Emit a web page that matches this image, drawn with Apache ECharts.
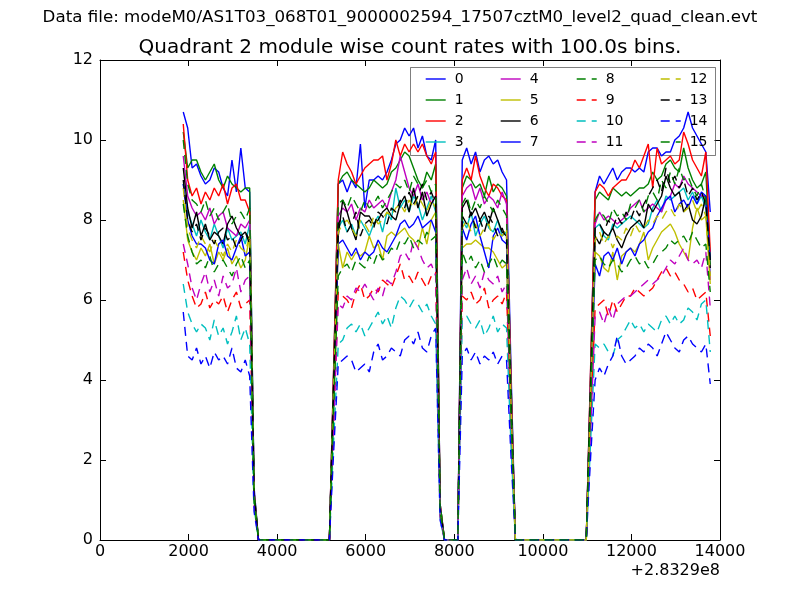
<!DOCTYPE html>
<html><head><meta charset="utf-8">
<script src="https://cdn.jsdelivr.net/npm/echarts/dist/echarts.min.js"></script>
<style>html,body{margin:0;padding:0;background:#fff}#c{width:800px;height:600px}</style>
</head><body><div id="c"></div>
<script>
// time offsets (s) relative to 2.8329e8, 100 s bins
const times = [
 1880,1980,2080,2180,2280,2380,2480,2580,2680,2780,2880,2980,3080,3180,3280,3380,3480,3580,
 5180,
 5280,5380,5480,5580,5680,5780,5880,5980,6080,6180,6280,6380,6480,6580,6680,6780,6880,6980,7080,7180,7280,7380,7480,7580,7680,7780,
 8080,
 8180,8280,8380,8480,8580,8680,8780,8880,8980,9080,9180,9280,9380,
 10980,
 11080,11180,11280,11380,11480,11580,11680,11780,11880,11980,12080,12180,12280,12380,12480,12580,12680,12780,12880,12980,13080,13180,13280,13380,13480,13580,13680,13780
];
const s0 = [10.7,10.3,9.3,9.4,9.1,8.9,9.0,9.3,9.2,8.8,8.6,9.5,8.7,9.8,8.8,8.7,1.3,0, 0,
 4.4,8.9,9.0,8.7,9.0,8.8,9.9,8.3,9.0,9.0,9.1,9.0,9.2,9.5,9.9,10.0,10.3,10.1,10.3,9.8,10.1,9.6,9.5,10.0,0.9,0, 0,
 9.5,9.8,9.4,9.7,9.2,9.5,9.6,9.4,9.5,9.2,9.0,4.3,0, 0,
 4.3,8.7,9.1,8.9,9.1,9.3,9.0,9.2,9.3,9.3,9.2,9.3,9.2,9.7,9.8,9.8,9.6,9.7,9.7,10.0,10.1,10.3,10.7,10.3,10.1,9.9,9.7,8.2];
const s1 = [10.2,9.3,9.5,9.5,9.2,9.0,9.2,9.4,9.0,8.8,9.1,8.9,8.8,8.7,8.8,8.8,1.2,0, 0,
 4.3,8.9,9.1,9.2,9.0,8.9,8.8,8.7,8.8,9.0,8.9,8.8,8.9,9.2,9.3,9.5,9.7,9.6,9.3,9.0,8.8,9.2,9.0,9.4,0.9,0, 0,
 8.8,9.1,9.0,8.8,8.9,8.6,9.1,8.7,8.9,8.8,8.6,4.0,0, 0,
 4.2,8.5,8.7,8.6,8.5,8.8,8.7,8.6,8.7,8.6,8.7,8.8,8.8,8.9,9.2,9.0,9.1,9.4,9.5,9.3,9.2,9.8,9.3,9.0,8.8,8.9,9.2,7.0];
const s2 = [10.4,9.0,8.6,8.8,8.4,8.7,8.5,8.8,8.6,8.9,8.4,8.8,8.9,8.5,8.5,8.2,1.2,0, 0,
 4.5,9.0,9.7,9.4,9.2,8.9,9.1,9.3,9.4,9.5,9.5,9.6,9.0,9.4,10.0,9.6,9.9,9.7,9.9,9.7,9.9,9.6,9.4,9.7,0.9,0, 0,
 9.0,9.3,9.0,9.6,9.1,8.8,8.6,8.9,8.8,8.6,8.5,4.0,0, 0,
 4.4,8.7,8.9,8.8,8.6,8.8,8.9,9.0,9.0,9.2,9.5,9.3,9.6,9.9,8.8,9.8,9.4,9.5,9.6,9.4,9.5,10.2,9.9,9.5,9.3,9.1,9.7,7.2];
const s3 = [8.9,8.2,7.9,7.6,8.0,7.7,7.5,7.9,7.6,7.3,7.8,7.5,7.6,7.7,7.4,7.9,1.1,0, 0,
 3.9,7.8,8.0,7.7,7.9,7.6,8.0,7.8,7.6,7.9,8.1,7.7,8.2,8.0,8.8,8.3,8.5,8.2,8.6,8.4,8.0,8.3,8.6,8.2,0.8,0, 0,
 8.0,7.8,8.2,7.6,7.9,8.1,7.8,7.7,8.0,7.6,7.7,3.5,0, 0,
 3.9,7.8,7.9,7.6,7.5,7.9,7.8,7.9,8.0,8.1,8.0,7.9,7.8,7.9,8.3,8.5,8.2,8.6,8.5,8.6,8.7,8.8,8.5,8.7,8.4,8.6,8.3,6.6];
const s4 = [9.6,8.6,8.3,8.1,8.2,8.0,8.3,7.9,8.1,8.2,7.8,7.7,7.6,7.9,7.8,8.0,1.1,0, 0,
 4.1,8.1,8.3,8.2,8.4,8.0,8.3,8.2,8.5,8.3,8.4,8.5,8.3,8.7,9.0,9.6,9.2,8.8,8.6,8.9,8.5,8.7,8.4,8.6,0.8,0, 0,
 8.6,8.8,8.9,8.5,8.8,8.4,8.6,8.5,8.3,8.7,8.4,3.8,0, 0,
 4.0,7.9,8.2,8.0,8.1,8.0,7.9,8.0,8.1,8.3,8.4,8.5,8.2,8.3,8.4,8.3,8.2,8.5,8.6,8.9,8.8,9.1,8.9,8.8,8.7,8.6,8.6,6.5];
const s5 = [8.5,7.5,7.2,7.0,7.3,7.1,7.4,6.9,7.2,7.0,7.3,6.9,7.1,6.8,7.0,7.6,1.0,0, 0,
 3.7,7.4,6.8,7.2,7.0,7.2,7.1,7.2,7.6,7.3,7.4,7.0,7.6,7.7,7.6,7.7,7.8,7.6,7.5,7.3,7.8,7.4,8.0,8.2,0.8,0, 0,
 7.3,7.4,7.4,7.5,7.4,7.3,7.3,7.2,7.0,6.8,6.9,3.2,0, 0,
 3.6,7.2,7.1,6.8,6.7,7.2,6.5,7.1,7.2,7.3,7.2,7.4,7.7,7.0,7.3,7.5,7.7,7.8,7.9,7.7,7.4,7.2,7.0,7.8,8.3,8.0,8.1,6.4];
const s6 = [9.3,8.3,7.8,8.2,7.6,7.9,7.5,7.7,7.6,7.4,7.9,8.1,7.8,7.6,7.7,7.5,1.1,0, 0,
 3.9,7.6,8.5,8.2,7.8,7.5,8.2,8.1,8.1,7.9,8.0,8.2,8.3,8.1,8.0,8.4,8.6,8.2,8.8,8.3,8.7,8.1,8.4,8.6,0.8,0, 0,
 8.3,8.5,8.1,8.3,8.0,8.2,7.9,8.3,8.0,7.7,7.6,3.5,0, 0,
 3.8,7.6,7.4,7.7,7.6,7.8,7.5,7.3,7.6,7.8,7.9,8.0,7.8,8.4,8.2,8.4,8.6,9.1,8.8,8.6,8.7,8.2,8.4,8.0,7.9,8.1,8.6,6.8];
const s7 = [8.9,8.0,7.6,7.4,7.4,7.3,7.0,6.9,7.4,7.5,7.1,7.0,7.3,7.6,7.1,7.2,1.0,0, 0,
 3.7,7.4,7.5,7.3,7.1,7.3,7.0,7.2,7.1,7.2,7.5,7.3,7.2,7.4,7.6,7.9,8.0,7.8,7.9,8.1,7.8,7.9,8.0,7.7,0.8,0, 0,
 7.8,7.5,7.9,8.1,7.6,7.2,6.8,7.6,7.8,7.5,7.4,3.3,0, 0,
 3.5,6.9,6.6,7.1,7.2,7.0,7.3,6.9,7.2,7.3,7.1,7.4,7.5,7.7,7.8,8.1,8.3,8.5,8.6,8.2,8.4,8.5,8.3,8.6,8.4,8.7,8.6,7.0];
const s8 = [10.0,8.9,8.5,8.4,8.2,8.5,8.1,8.3,8.0,8.2,8.4,7.9,8.1,8.2,8.0,8.3,1.2,0, 0,
 4.2,8.4,8.5,8.3,8.6,8.4,8.2,8.5,8.3,8.4,8.6,8.3,8.5,8.7,8.9,8.8,9.0,8.7,9.1,8.9,8.8,9.0,8.7,8.9,0.9,0, 0,
 8.4,8.6,8.2,8.5,8.3,8.6,8.4,8.2,8.5,8.3,8.1,3.7,0, 0,
 4.0,8.0,8.2,8.1,7.9,8.3,8.1,8.2,8.0,8.4,8.3,8.5,8.2,8.6,8.7,8.5,9.0,8.8,9.2,8.9,9.3,9.0,9.1,8.8,8.6,8.9,8.5,6.8];
const s9 = [7.2,6.5,6.1,5.8,5.9,6.2,5.8,6.0,5.9,6.1,5.7,6.0,6.2,5.8,5.9,6.0,0.9,0, 0,
 3.1,6.2,6.1,6.0,5.8,6.2,6.4,6.0,6.1,6.3,6.2,6.5,6.4,6.3,6.6,6.9,6.5,6.6,6.4,6.7,6.5,6.3,6.6,6.7,0.6,0, 0,
 6.1,6.0,6.2,5.9,6.0,6.3,5.8,6.0,6.1,5.9,6.2,2.7,0, 0,
 2.9,5.8,5.9,6.0,5.6,6.0,5.7,5.9,6.1,6.1,6.3,6.2,6.1,6.2,6.3,6.5,6.7,6.8,6.6,6.7,6.5,6.4,6.2,6.3,6.0,6.1,6.2,5.1];
const s10 = [6.4,5.7,5.4,5.2,5.4,5.3,5.0,5.5,5.1,5.3,4.9,5.2,5.6,5.0,5.3,4.9,0.8,0, 0,
 2.6,4.9,5.0,5.3,5.4,5.2,5.4,5.1,5.3,5.5,5.7,5.4,5.6,5.3,5.8,6.1,6.0,5.8,6.0,5.9,5.7,5.9,5.6,5.4,0.5,0, 0,
 5.5,5.6,5.4,5.3,5.5,5.1,5.3,5.6,5.2,5.4,5.3,2.4,0, 0,
 2.5,4.9,4.8,4.9,4.7,4.6,5.0,5.1,5.3,5.5,5.3,5.4,5.2,5.4,5.3,5.2,5.5,5.6,5.4,5.6,5.4,5.5,5.8,5.7,5.5,5.9,6.0,4.7];
const s11 = [7.4,6.9,6.3,6.0,6.4,6.7,6.2,6.5,6.1,6.6,6.3,6.4,6.8,6.2,6.5,6.6,0.9,0, 0,
 3.0,5.9,5.8,6.1,6.0,6.3,6.2,6.4,6.2,6.0,6.3,6.1,6.5,6.4,6.7,7.1,7.2,7.0,7.5,7.3,7.0,6.8,6.9,6.6,0.6,0, 0,
 6.5,6.8,6.4,6.6,6.3,6.7,6.5,6.4,6.6,6.2,6.4,2.9,0, 0,
 2.8,5.6,5.7,5.4,5.8,5.5,5.9,6.0,6.1,6.1,6.2,6.3,6.4,6.5,6.4,6.5,6.6,6.8,7.0,6.9,7.1,7.3,7.0,6.9,7.0,6.8,7.2,5.8];
const s12 = [8.8,7.8,7.5,7.3,7.6,7.4,7.2,7.5,7.3,7.1,7.4,7.2,7.5,7.3,7.2,7.6,1.0,0, 0,
 3.9,7.7,7.9,8.0,7.8,7.6,8.0,7.9,7.7,8.1,7.9,8.0,8.2,8.1,8.3,8.4,8.2,8.5,8.3,8.6,8.4,8.2,8.5,8.3,0.8,0, 0,
 7.8,8.0,7.7,7.9,7.6,7.8,7.9,7.5,7.7,7.6,7.8,3.5,0, 0,
 3.7,7.5,7.7,7.4,7.6,7.3,7.6,7.5,7.8,7.6,7.9,7.7,7.8,8.0,7.9,8.1,8.0,8.2,8.3,8.1,8.4,8.2,8.3,8.5,8.2,8.4,8.1,6.6];
const s13 = [9.0,8.0,7.7,7.9,7.5,7.8,7.6,7.4,7.7,7.8,7.5,7.6,7.3,7.5,7.7,7.4,1.1,0, 0,
 4.0,7.9,8.1,7.7,7.9,8.2,7.6,7.9,8.0,7.8,8.2,8.1,7.9,8.3,8.2,8.5,8.3,8.7,8.4,8.6,8.9,8.5,8.7,8.4,0.8,0, 0,
 8.1,7.9,8.2,7.8,8.0,7.7,8.1,7.9,7.6,7.8,7.5,3.4,0, 0,
 3.9,7.8,7.9,7.7,8.0,7.8,8.1,7.9,8.2,8.0,8.3,8.1,8.4,8.6,8.8,9.0,8.7,9.3,8.9,9.1,8.8,9.0,8.6,8.8,8.5,8.7,8.4,7.0];
const s14 = [5.7,4.6,4.5,4.8,4.4,4.6,4.3,4.7,4.5,4.6,4.4,4.8,4.3,4.2,4.5,4.1,0.7,0, 0,
 2.3,4.4,4.5,4.6,4.5,4.2,4.3,4.4,4.2,4.7,4.9,4.5,4.6,4.8,4.7,4.6,5.0,5.1,4.9,5.2,4.8,4.7,5.1,5.3,0.5,0, 0,
 4.6,4.8,4.5,4.7,4.4,4.6,4.5,4.7,4.4,4.6,4.5,2.1,0, 0,
 2.1,4.0,4.3,4.1,4.4,4.6,5.1,4.6,4.4,4.5,4.6,4.8,4.7,4.9,4.8,4.6,4.9,5.2,5.0,4.8,4.7,5.0,5.1,4.9,4.8,4.7,4.9,3.9];
const s15 = [8.4,7.6,7.2,6.9,7.0,6.8,7.1,6.7,6.9,7.0,6.8,6.6,6.9,7.1,6.8,7.0,1.0,0, 0,
 3.4,6.6,6.8,6.9,6.7,7.0,6.9,6.8,7.1,6.9,7.2,7.0,7.1,7.3,7.2,7.5,7.4,7.6,7.3,7.5,7.4,7.7,7.5,7.6,0.7,0, 0,
 7.2,6.9,7.1,6.8,7.0,6.7,6.9,7.1,6.8,7.0,6.9,3.1,0, 0,
 3.5,7.0,7.1,6.9,6.8,7.0,6.9,6.7,6.8,7.0,7.1,6.9,7.0,6.8,6.9,7.1,7.2,7.3,7.5,7.4,7.5,7.6,7.4,7.7,7.5,7.3,7.4,6.2];

const seriesValues = [s0,s1,s2,s3,s4,s5,s6,s7,s8,s9,s10,s11,s12,s13,s14,s15];
const seriesNames = ['0','1','2','3','4','5','6','7','8','9','10','11','12','13','14','15'];
const seriesColors = ['#0000ff','#008000','#ff0000','#00bfbf','#bf00bf','#bfbf00','#000000',
  '#0000ff','#008000','#ff0000','#00bfbf','#bf00bf','#bfbf00','#000000','#0000ff','#008000'];
const suptitle = 'Data file: modeM0/AS1T03_068T01_9000002594_17507cztM0_level2_quad_clean.evt';
const titleText = 'Quadrant 2 module wise count rates with 100.0s bins.';
const offsetText = '+2.8329e8';

const FONT = 'DejaVu Sans';
const DASH = [9, 6];
const chart = echarts.init(document.getElementById('c'));

const series = seriesValues.map((vals, i) => ({
  name: seriesNames[i],
  type: 'line',
  symbol: 'none',
  showSymbol: false,
  silent: true,
  data: times.map((t, k) => [t, vals[k]]),
  itemStyle: { color: seriesColors[i] },
  lineStyle: { color: seriesColors[i], width: 1.4, type: i < 8 ? 'solid' : DASH },
  emphasis: { disabled: true }
}));

const legendCols = [420, 495, 571, 655];
const legends = legendCols.map((x, c) => ({
  data: seriesNames.slice(c * 4, c * 4 + 4),
  orient: 'vertical',
  left: x, top: 67,
  itemWidth: 20, itemHeight: 14, itemGap: 7,
  selectedMode: false,
  itemStyle: { opacity: 0 },
  lineStyle: { width: 1.4, type: c < 2 ? 'solid' : DASH },
  textStyle: { fontFamily: FONT, fontSize: 14, color: '#000', padding: [0, 0, 0, 4] }
}));

const axisCommon = {
  axisLine: { show: true, onZero: false, lineStyle: { color: '#000', width: 1 } },
  axisTick: { show: true, inside: true, length: 6, lineStyle: { color: '#000', width: 1 } },
  splitLine: { show: false }
};

chart.setOption({
  animation: false,
  backgroundColor: '#fff',
  grid: { left: 100, right: 80, top: 60, bottom: 60 },
  xAxis: [
    Object.assign({ type: 'value', min: 0, max: 14000, interval: 2000, position: 'bottom',
      axisLabel: { show: true, margin: 4, fontFamily: FONT, fontSize: 16, color: '#000',
        formatter: v => String(v) } }, axisCommon),
    Object.assign({ type: 'value', min: 0, max: 14000, interval: 2000, position: 'top',
      axisLabel: { show: false } }, axisCommon)
  ],
  yAxis: [
    Object.assign({ type: 'value', min: 0, max: 12, interval: 2, position: 'left',
      axisLabel: { show: true, margin: 7, fontFamily: FONT, fontSize: 16, color: '#000' } }, axisCommon),
    Object.assign({ type: 'value', min: 0, max: 12, interval: 2, position: 'right',
      axisLabel: { show: false } }, axisCommon)
  ],
  legend: legends,
  graphic: [
    { type: 'text', x: 400, y: 18, z: 10,
      style: { text: suptitle, fontFamily: FONT, fontSize: 16.7, fill: '#000', textAlign: 'center', textVerticalAlign: 'middle' } },
    { type: 'text', x: 410, y: 48, z: 10,
      style: { text: titleText, fontFamily: FONT, fontSize: 20, fill: '#000', textAlign: 'center', textVerticalAlign: 'middle' } },
    { type: 'text', x: 720, y: 571, z: 10,
      style: { text: offsetText, fontFamily: FONT, fontSize: 16, fill: '#000', textAlign: 'right', textVerticalAlign: 'middle' } },
    { type: 'rect', z: 3, shape: { x: 410.5, y: 67.5, width: 305, height: 88 },
      style: { fill: 'rgba(255,255,255,0.5)', stroke: 'rgba(0,0,0,0.5)', lineWidth: 1 } }
  ],
  series: series
});
</script></body></html>
